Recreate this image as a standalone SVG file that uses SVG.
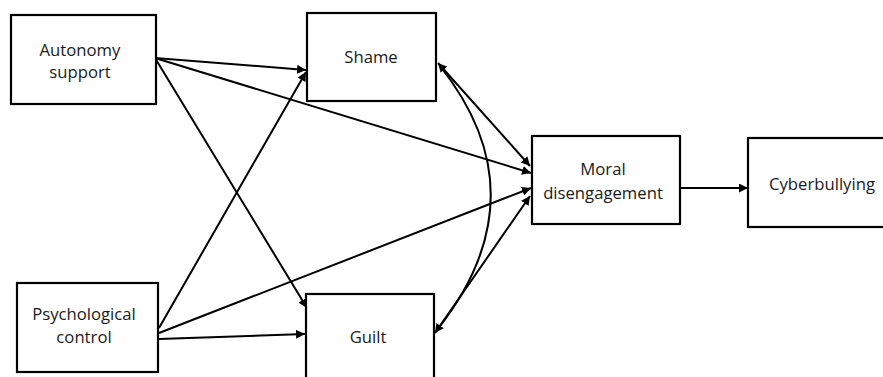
<svg xmlns="http://www.w3.org/2000/svg" width="883" height="377" viewBox="0 0 883 377">
<defs>
<marker id="ah" viewBox="0 0 10 10" refX="10" refY="5" markerWidth="4.5" markerHeight="4.5" orient="auto-start-reverse" markerUnits="strokeWidth">
<path d="M0,0 L10,5 L0,10 z" fill="#000"/>
</marker>
<style>
.box{fill:#fff;stroke:#000;stroke-width:2.2}
.lbl{font-family:"Open Sans","Liberation Sans",sans-serif;font-size:16.7px;fill:#1a1a1a;text-anchor:middle}
.c{fill:none;stroke:#000;stroke-width:2}
.a{marker-end:url(#ah)}
.b{marker-start:url(#ah);marker-end:url(#ah)}
</style>
</defs>
<rect width="883" height="377" fill="#fff"/>
<g id="connectors">
<line class="c a" x1="155" y1="58" x2="306" y2="70"/>
<line class="c a" x1="155" y1="58" x2="531" y2="173"/>
<line class="c a" x1="155" y1="58" x2="307" y2="308"/>
<line class="c a" x1="159" y1="328" x2="306" y2="72"/>
<line class="c a" x1="159" y1="333" x2="531" y2="188"/>
<line class="c a" x1="159" y1="339" x2="305" y2="334"/>
<line class="c b" x1="438" y1="63" x2="530" y2="166"/>
<line class="c b" x1="435" y1="333" x2="530" y2="196"/>
<path class="c" d="M440,66 Q543,196 437,330"/>
<line class="c a" x1="680" y1="188" x2="748" y2="188"/>
</g>
<g id="autonomy">
<rect class="box" x="11" y="15" width="145" height="89"/>
<text class="lbl" x="80" y="56">Autonomy</text>
<text class="lbl" x="80" y="78">support</text>
</g>
<g id="shame">
<rect class="box" x="307" y="13" width="129" height="88"/>
<text class="lbl" x="371" y="63">Shame</text>
</g>
<g id="psych">
<rect class="box" x="17" y="283" width="141" height="89"/>
<text class="lbl" x="84" y="320">Psychological</text>
<text class="lbl" x="84" y="343">control</text>
</g>
<g id="guilt">
<rect class="box" x="306" y="294" width="128" height="100"/>
<text class="lbl" x="368" y="343">Guilt</text>
</g>
<g id="moral">
<rect class="box" x="532" y="136" width="148" height="88"/>
<text class="lbl" x="603" y="175">Moral</text>
<text class="lbl" x="603" y="199">disengagement</text>
</g>
<g id="cyber">
<rect class="box" x="748" y="138" width="145" height="89"/>
<text class="lbl" x="822" y="190">Cyberbullying</text>
</g>
</svg>
